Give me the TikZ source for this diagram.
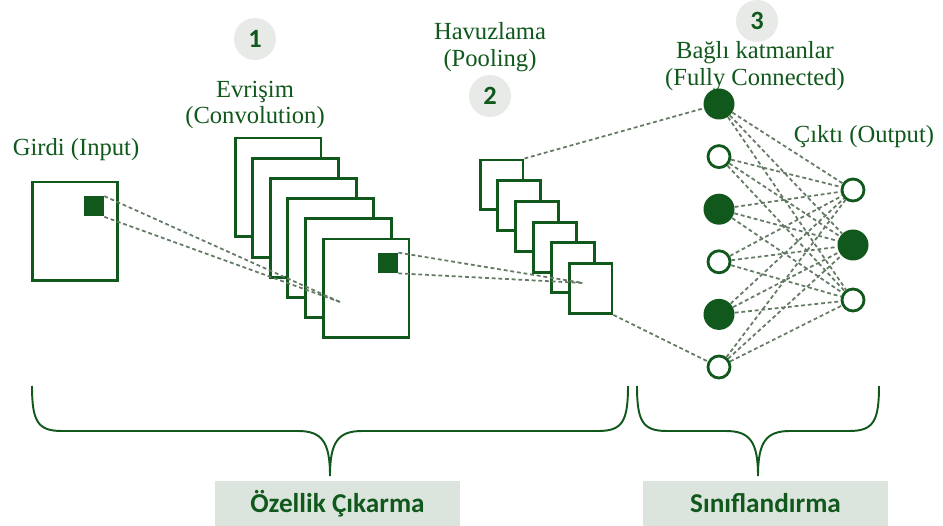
\documentclass[tikz,border=0pt]{standalone}
\usepackage{fontspec}
\setmainfont{Liberation Serif}
\newfontfamily\serifname{Liberation Serif}
\newfontfamily\boldsans{Carlito}
\usetikzlibrary{arrows.meta,positioning,calc}
\definecolor{cnngreen}{RGB}{16,88,28}
\definecolor{linkgray}{RGB}{100,122,100}
\definecolor{badgegray}{RGB}{232,234,232}
\definecolor{panelgray}{RGB}{220,229,221}

\begin{document}
\begin{tikzpicture}[x=0.02cm, y=-0.02cm]
        \tikzset{frame/.style={draw=cnngreen, line width=1.7pt, fill=white, minimum width=1.72cm, minimum height=1.98cm, inner sep=0pt},
            pframe/.style={frame, minimum width=0.86cm, minimum height=1.0cm},
            patch/.style={fill=cnngreen, minimum size=0.4cm, inner sep=0pt},
            neuronon/.style={circle, fill=cnngreen, minimum size=0.62cm, inner sep=0pt},
            neuronoff/.style={circle, draw=cnngreen, line width=1.6pt, fill=white, minimum size=0.44cm, inner sep=0pt},
            link/.style={draw=linkgray, line width=1pt, dash pattern=on 2.2pt off 1.6pt},
            brace/.style={draw=cnngreen, line width=1.1pt},
            lbl/.style={text=cnngreen, font=\serifname\fontsize{14}{15}\selectfont, align=center},
            badge/.style={circle, fill=badgegray, minimum size=0.84cm, inner sep=0pt, text=cnngreen, font=\boldsans\bfseries\fontsize{15}{15}\selectfont},
            panel/.style={fill=panelgray, minimum width=4.9cm, minimum height=0.9cm, inner sep=0pt, text=cnngreen, font=\boldsans\bfseries\fontsize{15.5}{16}\selectfont}}
        \fill[white] (0,0) rectangle (943,526);
        \useasboundingbox (0,0) rectangle (943,526);
        % feature extraction
        \node[frame] (in) at (75,231.5) {};
        \node[patch] (inpatch) at (94,206.5) {};
        \foreach \i in {1,...,6} {\node[frame] (cv\i) at ({278+17.6*(\i-1)},{187.5+20.2*(\i-1)}) {};}
        \node[patch] (cvpatch) at (388,263) {};
        \foreach \i in {1,...,6} {\node[pframe] (pl\i) at ({501.5+17.8*(\i-1)},{185+20.7*(\i-1)}) {};}
        \coordinate (cvhit) at (340,302);
        \coordinate (plhit) at (583,283);
        % classification
        \foreach \i/\st in {1/neuronon,2/neuronoff,3/neuronon,4/neuronoff,5/neuronon,6/neuronoff}
            {\node[\st] (fc\i) at (719,{104+52.6*(\i-1)}) {};}
        \foreach \j/\st in {1/neuronoff,2/neuronon,3/neuronoff}
            {\node[\st] (out\j) at (853,{190+55*(\j-1)}) {};}
        \foreach \i in {1,...,6} {\foreach \j in {1,2,3} {\draw[link] (fc\i) -- (out\j);}}
        \draw[link] (inpatch.north east) -- (cvhit);
        \draw[link] (inpatch.south east) -- (cvhit);
        \draw[link] (cvpatch.north east) -- (plhit);
        \draw[link] (cvpatch.south east) -- (plhit);
        \draw[link] (pl1.north east) -- (fc1);
        \draw[link] (pl6.south east) -- (fc6);
        % labels
        \node[lbl] (inlbl) at (76,150) {Girdi (Input)};
        \node[lbl] (cvlbl) at (255,105) {Evrişim\\(Convolution)};
        \node[lbl] (pllbl) at (490,47) {Havuzlama\\(Pooling)};
        \node[lbl] (fclbl) at (755,66) {Bağlı katmanlar\\(Fully Connected)};
        \node[lbl] (outlbl) at (864,137) {Çıktı (Output)};
        \node[badge] (b1) at (255,39) {1};
        \node[badge] (b2) at (490,96) {2};
        \node[badge] (b3) at (757,21) {3};
        % braces
        \draw[brace] (32,386) .. controls (32,422) and (38,431) .. (62,431) -- (298,431) .. controls (322,431) and (330,442) .. (330,476)
            .. controls (330,442) and (338,431) .. (362,431) -- (598,431) .. controls (622,431) and (628,422) .. (628,386);
        \draw[brace] (637,386) .. controls (637,422) and (643,431) .. (667,431) -- (726,431) .. controls (750,431) and (758,442) .. (758,476)
            .. controls (758,442) and (766,431) .. (790,431) -- (849,431) .. controls (873,431) and (879,422) .. (879,386);
        \node[panel] (fe) at (337.5,503.5) {Özellik Çıkarma};
        \node[panel] (cls) at (765.5,503.5) {Sınıflandırma};
    \end{tikzpicture}
\end{document}
